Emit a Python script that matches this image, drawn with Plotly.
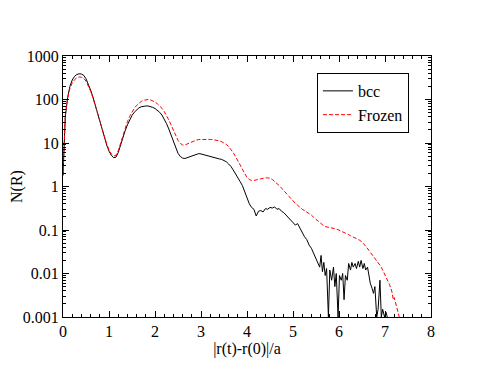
import plotly.graph_objects as go

# eje x: |r(t)-r(0)|/a ; eje y: N(R) en escala log
x_bcc = [0.00, 0.05, 0.10, 0.15, 0.20, 0.25, 0.30, 0.35, 0.40, 0.45, 0.50, 0.55, 0.60, 0.65, 0.70,
         0.75, 0.80, 0.85, 0.90, 0.95, 1.00, 1.05, 1.10, 1.15, 1.20, 1.25, 1.30, 1.35, 1.40, 1.45,
         1.50, 1.55, 1.60, 1.65, 1.70, 1.75, 1.80, 1.85, 1.90, 1.95, 2.00, 2.05, 2.10, 2.15, 2.20,
         2.25, 2.30, 2.35, 2.40, 2.45, 2.50, 2.55, 2.60, 2.65, 2.70, 2.75, 2.80, 2.85, 2.90, 2.95,
         3.00, 3.05, 3.10, 3.15, 3.20, 3.25, 3.30, 3.35, 3.40, 3.45, 3.50, 3.55, 3.60, 3.65, 3.70,
         3.75, 3.80, 3.85, 3.90, 3.95, 4.00, 4.05, 4.10, 4.15, 4.20, 4.25, 4.30, 4.35, 4.40, 4.45,
         4.50, 4.55, 4.60, 4.65, 4.70, 4.75, 4.80, 4.85, 4.90, 4.95, 5.00, 5.05, 5.10, 5.15, 5.20,
         5.25, 5.30, 5.35, 5.40, 5.45, 5.50,
         5.55, 5.58, 5.61, 5.64, 5.67, 5.70, 5.73, 5.77, 5.80, 5.84, 5.88, 5.91, 5.94, 5.98, 6.01,
         6.05, 6.08, 6.11, 6.14, 6.18, 6.21, 6.25, 6.28, 6.31, 6.35, 6.38, 6.42, 6.45, 6.48, 6.52,
         6.55, 6.58, 6.62, 6.65, 6.68, 6.72, 6.75, 6.78, 6.82, 6.85, 6.89, 6.92, 6.95, 6.99, 7.02,
         7.05]
n_bcc = [1.8, 40, 110, 200, 280, 340, 375, 390, 385, 360, 300, 230, 165, 115, 75,
         48, 31, 20, 13, 9, 6.5, 5.2, 4.6, 4.7, 6, 9, 13, 19, 26, 34,
         43, 51, 58, 64, 68, 70, 71, 71, 69, 66, 62, 57, 51, 44, 36,
         28, 21, 15, 10.5, 7.5, 5.8, 4.9, 4.5, 4.4, 4.6, 4.9, 5.2, 5.4, 5.6, 5.7,
         5.6, 5.4, 5.2, 5.0, 4.8, 4.7, 4.5, 4.4, 4.3, 4.2, 4.0, 3.7, 3.3, 2.9, 2.4,
         2.0, 1.6, 1.3, 1.05, 0.75, 0.55, 0.40, 0.33, 0.30, 0.21, 0.27, 0.28, 0.26, 0.31, 0.30,
         0.33, 0.32, 0.34, 0.30, 0.31, 0.27, 0.25, 0.22, 0.20, 0.17, 0.155, 0.13, 0.14, 0.11, 0.085,
         0.07, 0.06, 0.045, 0.038, 0.028, 0.022,
         0.016, 0.014, 0.026, 0.011, 0.018, 0.009, 0.013, 0.001, 0.012, 0.007, 0.014, 0.005, 0.010, 0.001, 0.009,
         0.007, 0.010, 0.0025, 0.009, 0.007, 0.017, 0.012, 0.018, 0.014, 0.017, 0.013, 0.019, 0.014, 0.020, 0.013,
         0.017, 0.012, 0.014, 0.009, 0.006, 0.0045, 0.0035, 0.005, 0.001, 0.0015, 0.007, 0.001, 0.0015, 0.001, 0.0013,
         0.001]

x_frozen = [0.00, 0.05, 0.10, 0.15, 0.20, 0.25, 0.30, 0.35, 0.40, 0.45, 0.50, 0.55, 0.60, 0.65, 0.70,
            0.75, 0.80, 0.85, 0.90, 0.95, 1.00, 1.05, 1.10, 1.15, 1.20, 1.25, 1.30, 1.35, 1.40, 1.45,
            1.50, 1.55, 1.60, 1.65, 1.70, 1.75, 1.80, 1.85, 1.90, 1.95, 2.00, 2.05, 2.10, 2.15, 2.20,
            2.25, 2.30, 2.35, 2.40, 2.45, 2.50, 2.55, 2.60, 2.65, 2.70, 2.75, 2.80, 2.85, 2.90, 2.95,
            3.00, 3.05, 3.10, 3.15, 3.20, 3.25, 3.30, 3.35, 3.40, 3.45, 3.50, 3.55, 3.60, 3.65, 3.70,
            3.75, 3.80, 3.85, 3.90, 3.95, 4.00, 4.05, 4.10, 4.15, 4.20, 4.25, 4.30, 4.35, 4.40, 4.45,
            4.50, 4.55, 4.60, 4.65, 4.70, 4.75, 4.80, 4.85, 4.90, 4.95, 5.00, 5.05, 5.10, 5.15, 5.20,
            5.25, 5.30, 5.35, 5.40, 5.45, 5.50, 5.55, 5.60, 5.65, 5.70, 5.75, 5.80, 5.85, 5.90, 5.95,
            6.00, 6.05, 6.10, 6.15, 6.20, 6.25, 6.30, 6.35, 6.40, 6.45, 6.50, 6.55, 6.60, 6.65, 6.70,
            6.75, 6.80, 6.85, 6.90, 6.95, 7.00, 7.05, 7.10, 7.15, 7.18, 7.20, 7.23, 7.26, 7.30, 7.33]
n_frozen = [1.8, 45, 105, 180, 240, 285, 315, 330, 325, 305, 265, 210, 155, 110, 74,
            48, 31, 20, 13.5, 9.5, 7, 5.6, 5.0, 5.2, 6.6, 10, 15, 22, 31, 41,
            52, 63, 73, 82, 90, 96, 99, 100, 98, 94, 88, 80, 72, 63, 53,
            43, 34, 26, 19.5, 15, 11.5, 9.8, 9.0, 9.0, 9.5, 10.2, 10.8, 11.3, 11.7, 12.0,
            12.1, 12.2, 12.2, 12.2, 12.1, 12.0, 11.8, 11.5, 11.2, 10.7, 10.0, 9.3, 8.3, 7.2, 6.0,
            4.9, 3.9, 3.0, 2.4, 1.9, 1.6, 1.45, 1.38, 1.38, 1.42, 1.47, 1.52, 1.55, 1.58, 1.58,
            1.55, 1.45, 1.32, 1.18, 1.05, 0.92, 0.80, 0.69, 0.60, 0.52, 0.46, 0.41, 0.37, 0.33, 0.30,
            0.28, 0.26, 0.245, 0.22, 0.195, 0.175, 0.155, 0.14, 0.13, 0.12, 0.118, 0.115, 0.11, 0.108, 0.105,
            0.10, 0.095, 0.088, 0.083, 0.079, 0.074, 0.070, 0.066, 0.062, 0.058, 0.053, 0.047, 0.040, 0.034, 0.029,
            0.025, 0.021, 0.018, 0.015, 0.012, 0.0095, 0.0075, 0.0055, 0.0038, 0.0025, 0.0028, 0.0022, 0.0016, 0.0011, 0.0008]

y_ticks = [0.001, 0.01, 0.1, 1, 10, 100, 1000]
y_labels = ["0.001", "0.01", "0.1", "1", "10", "100", "1000"]

fuente = dict(family="Liberation Serif, Times New Roman, Times, Nimbus Roman, DejaVu Serif, serif",
              size=16, color="black")

fig = go.Figure()

fig.add_trace(go.Scatter(
    x=x_bcc, y=n_bcc, mode="lines", name="bcc",
    line=dict(color="black", width=1)
))

fig.add_trace(go.Scatter(
    x=x_frozen, y=n_frozen, mode="lines", name="Frozen",
    line=dict(color="red", width=1, dash="4px,2px")
))

# la pagina tiene 8px de margen, se compensa en los margenes
fig.update_layout(
    width=477, height=366,
    margin=dict(l=55, r=54, t=48, b=57),
    paper_bgcolor="white",
    plot_bgcolor="white",
    font=fuente,
    showlegend=True,
    legend=dict(
        x=0.69, y=0.935, xanchor="left", yanchor="top",
        bordercolor="black", borderwidth=1, bgcolor="white",
        font=fuente, tracegroupgap=0, itemwidth=30
    ),
    xaxis=dict(
        title=dict(text="|r(t)-r(0)|/a", font=fuente, standoff=2),
        range=[0, 8], dtick=1, tick0=0, automargin=False,
        showline=True, linecolor="black", linewidth=1, mirror="ticks",
        ticks="inside", ticklen=6, tickcolor="black",
        minor=dict(ticks="inside", ticklen=3, dtick=0.2, tickcolor="black"),
        showgrid=False, zeroline=False, tickfont=fuente
    ),
    yaxis=dict(
        title=dict(text="N(R)", font=fuente, standoff=4),
        type="log", range=[-3, 3], automargin=False,
        tickmode="array", tickvals=y_ticks, ticktext=y_labels,
        showline=True, linecolor="black", linewidth=1, mirror="ticks",
        ticks="inside", ticklen=6, tickcolor="black",
        minor=dict(ticks="inside", ticklen=3, dtick="D1", tickcolor="black"),
        showgrid=False, zeroline=False, tickfont=fuente
    )
)

fig.write_html("out.html")
